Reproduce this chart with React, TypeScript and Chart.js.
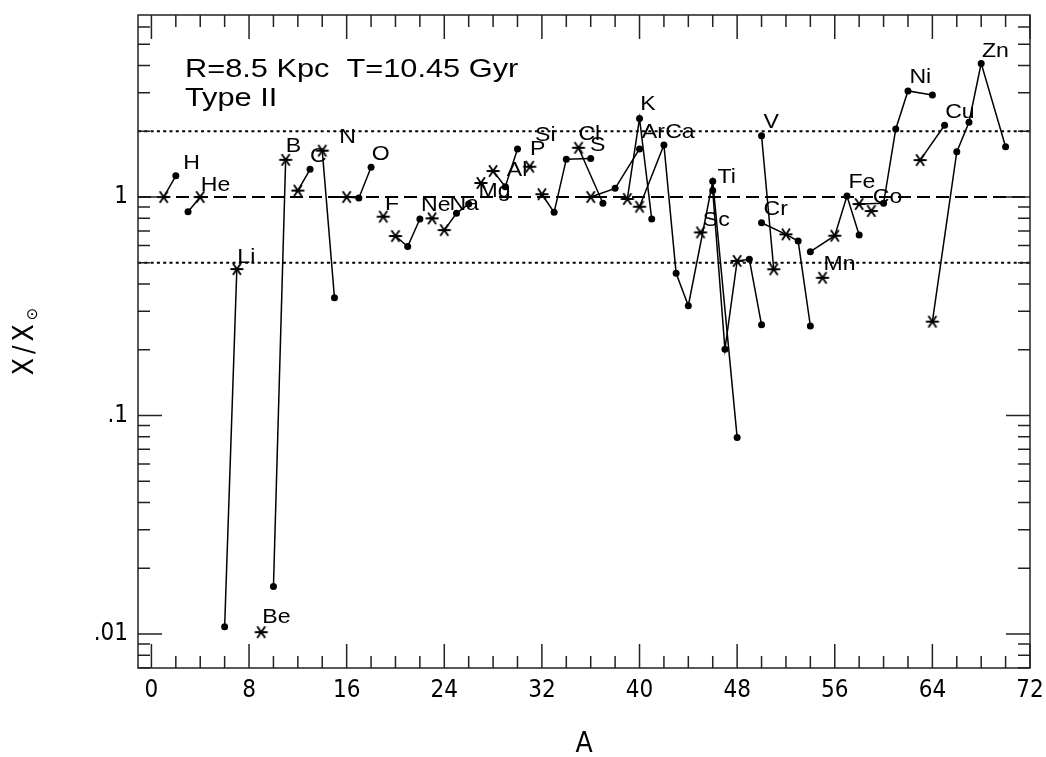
import React, { useEffect, useRef } from 'react';
import { Chart, registerables } from 'chart.js';
Chart.register(...registerables);

// ---- data ----
const elements = ['H','He','Li','Be','B','C','N','O','F','Ne','Na','Mg','Al','Si','P','S','Cl','Ar','K','Ca','Sc','Ti','V','Cr','Mn','Fe','Co','Ni','Cu','Zn'];
const massNumbers = [[1,2],[3,4],[6,7],[9],[10,11],[12,13],[14,15],[16,17,18],[19],[20,21,22],[23],[24,25,26],[27],[28,29,30],[31],[32,33,34,36],[35,37],[36,38,40],[39,40,41],[40,42,43,44,46,48],[45],[46,47,48,49,50],[50,51],[50,52,53,54],[55],[54,56,57,58],[59],[58,60,61,62,64],[63,65],[64,66,67,68,70]];
const ratios = [[1.0,1.25],[0.857,1.0],[0.0108,0.468],[0.0102],[0.0165,1.48],[1.07,1.34],[1.63,0.346],[1.0,0.99,1.37],[0.813],[0.663,0.593,0.793],[0.799],[0.706,0.842,0.929],[1.16],[1.315,1.115,1.66],[1.376],[1.03,0.851,1.49,1.50],[1.68,0.936],[1.0,1.096,1.66],[0.98,2.29,0.793],[0.903,1.73,0.448,0.318,1.18,0.0794],[0.689],[1.07,0.201,0.51,0.519,0.26],[1.91,0.467],[0.763,0.675,0.629,0.257],[0.427],[0.562,0.665,1.01,0.67],[0.863],[0.929,0.936,2.05,3.06,2.93],[1.476,2.13],[0.269,1.61,2.20,4.09,1.70]];
const starIsotope = [1,4,7,9,11,12,14,16,19,20,23,24,27,28,31,32,35,36,39,40,45,48,51,52,55,56,59,58,63,64];
// label anchors (data units: mass number, ratio)
const labelMass = [2.61,4.04,7.04,9.09,11.01,13.0,15.4,18.06,19.15,22.1,24.42,26.8,29.12,31.44,31.03,35.95,34.99,40.19,40.05,42.1,45.19,46.39,50.16,50.16,55.07,57.12,59.12,62.12,65.05,68.06];
const labelRatio = [1.35,1.07,0.497,0.0112,1.61,1.45,1.76,1.48,0.872,0.863,0.872,1.0,1.248,1.81,1.557,1.63,1.82,1.857,2.50,1.857,0.737,1.163,2.063,0.827,0.463,1.096,0.942,3.31,2.29,4.39];

const xTicks = [0,8,16,24,32,40,48,56,64,72];
const xMinorStep = 2;
const yTicks = [0.01,0.1,1];
const yTickLabels = ['.01','.1','1'];
const dottedLevels = [2,0.5];
const dashedLevels = [1];
const annotationLines = ['R=8.5 Kpc  T=10.45 Gyr','Type II'];
const xTitle = 'A';

const X_MIN = -1.1, X_MAX = 72, Y_MIN = 0.00699, Y_MAX = 6.81;
const NARROW = "'Liberation Sans Narrow', 'DejaVu Sans Condensed', sans-serif";
const SANS = "'Liberation Sans', Arial, sans-serif";

function makeStar(): HTMLCanvasElement {
  const c = document.createElement('canvas');
  c.width = 16; c.height = 16;
  const g = c.getContext('2d')!;
  g.strokeStyle = '#000';
  g.lineWidth = 1.9;
  g.beginPath();
  g.moveTo(1.5, 8); g.lineTo(14.5, 8);
  g.moveTo(4, 2.3); g.lineTo(12, 13.7);
  g.moveTo(4, 13.7); g.lineTo(12, 2.3);
  g.stroke();
  return c;
}

function wideText(ctx: CanvasRenderingContext2D, text: string, x: number, y: number, sx: number) {
  ctx.save();
  ctx.translate(x, y);
  ctx.scale(sx, 1);
  ctx.fillText(text, 0, 0);
  ctx.restore();
}

const decorPlugin = {
  id: 'decor',
  beforeDatasetsDraw(chart: any) {
    const { ctx, chartArea: a, scales } = chart;
    const y = scales.y;
    ctx.save();
    ctx.strokeStyle = '#000';
    ctx.lineWidth = 2;
    dottedLevels.forEach((v) => {
      const py = y.getPixelForValue(v);
      ctx.setLineDash([3, 3.3]);
      ctx.beginPath(); ctx.moveTo(a.left, py); ctx.lineTo(a.right, py); ctx.stroke();
    });
    dashedLevels.forEach((v) => {
      const py = y.getPixelForValue(v);
      ctx.setLineDash([13, 6]);
      ctx.beginPath(); ctx.moveTo(a.left, py); ctx.lineTo(a.right, py); ctx.stroke();
    });
    ctx.restore();
  },
  afterDraw(chart: any) {
    const { ctx, chartArea: a, scales } = chart;
    const xs = scales.x, ys = scales.y;
    ctx.save();
    // frame
    ctx.strokeStyle = '#222';
    ctx.lineWidth = 1.5;
    ctx.setLineDash([]);
    ctx.strokeRect(a.left, a.top, a.right - a.left, a.bottom - a.top);
    // x ticks (bottom & top, inward)
    ctx.beginPath();
    for (let v = xTicks[0]; v <= xTicks[xTicks.length - 1]; v += xMinorStep) {
      const px = xs.getPixelForValue(v);
      const len = xTicks.includes(v) ? 24 : 12;
      ctx.moveTo(px, a.bottom); ctx.lineTo(px, a.bottom - len);
      ctx.moveTo(px, a.top); ctx.lineTo(px, a.top + len);
    }
    // y ticks (left & right, inward)
    for (let d = 0.001; d < 10; d *= 10) {
      for (let m = 1; m <= 9; m++) {
        const v = m * d;
        if (v < Y_MIN || v > Y_MAX) continue;
        const py = ys.getPixelForValue(v);
        const len = m === 1 ? 24 : 12;
        ctx.moveTo(a.left, py); ctx.lineTo(a.left + len, py);
        ctx.moveTo(a.right, py); ctx.lineTo(a.right - len, py);
      }
    }
    ctx.stroke();

    // element labels
    ctx.fillStyle = '#000';
    ctx.font = `21px ${SANS}`;
    ctx.textAlign = 'left';
    ctx.textBaseline = 'alphabetic';
    elements.forEach((el, i) => {
      wideText(ctx, el, xs.getPixelForValue(labelMass[i]), ys.getPixelForValue(labelRatio[i]), 1.1);
    });

    // annotation text
    ctx.font = `25px ${SANS}`;
    wideText(ctx, annotationLines[0], a.left + 47, a.top + 62, 1.23);
    wideText(ctx, annotationLines[1], a.left + 47, a.top + 91, 1.23);

    // x title
    ctx.font = `28px ${NARROW}`;
    ctx.textAlign = 'center';
    ctx.textBaseline = 'middle';
    ctx.fillText(xTitle, (a.left + a.right) / 2, 745);

    // y title rotated: X/X⊙
    ctx.translate(26, (a.top + a.bottom) / 2);
    ctx.rotate(-Math.PI / 2);
    ctx.textAlign = 'left';
    ctx.textBaseline = 'middle';
    const parts = ['X', '/', 'X'];
    ctx.font = `28px ${NARROW}`;
    const gap = 4;
    const widths = parts.map((p) => ctx.measureText(p).width);
    ctx.font = `15px 'DejaVu Sans', sans-serif`;
    const sunW = ctx.measureText('\u2299').width;
    const total = widths.reduce((s, w) => s + w, 0) + gap * parts.length + sunW;
    let cx = -total / 2;
    ctx.font = `28px ${NARROW}`;
    parts.forEach((p, i) => { ctx.fillText(p, cx, 0); cx += widths[i] + gap; });
    ctx.font = `15px 'DejaVu Sans', sans-serif`;
    ctx.fillText('\u2299', cx, 7);
    ctx.restore();
  },
};

export default function App() {
  const ref = useRef<HTMLCanvasElement | null>(null);
  useEffect(() => {
    const star = makeStar();
    const datasets = elements.map((el, i) => ({
      label: el,
      data: massNumbers[i].map((m, j) => ({ x: m, y: ratios[i][j] })),
      showLine: true,
      borderColor: '#000',
      borderWidth: 1.5,
      backgroundColor: '#000',
      pointBackgroundColor: '#000',
      pointBorderColor: '#000',
      pointBorderWidth: 0,
      pointRadius: 3.5,
      pointStyle: massNumbers[i].map((m) => (m === starIsotope[i] ? star : 'circle')),
    }));
    const chart = new Chart(ref.current!, {
      type: 'scatter',
      data: { datasets } as any,
      options: {
        animation: false,
        responsive: false,
        devicePixelRatio: 1,
        layout: { padding: { left: 0, right: 16, top: 15, bottom: 0 } },
        plugins: { legend: { display: false }, tooltip: { enabled: false } },
        scales: {
          x: {
            type: 'linear',
            min: X_MIN,
            max: X_MAX,
            grid: { display: false, drawTicks: false },
            border: { display: false },
            afterBuildTicks: (s: any) => { s.ticks = xTicks.map((v) => ({ value: v })); },
            afterFit: (s: any) => { s.height = 89; s.paddingLeft = 0; s.paddingRight = 0; },
            ticks: { color: '#000', padding: 8, maxRotation: 0, autoSkip: false, font: { family: NARROW, size: 24 } },
          },
          y: {
            type: 'logarithmic',
            min: Y_MIN,
            max: Y_MAX,
            grid: { display: false, drawTicks: false },
            border: { display: false },
            afterBuildTicks: (s: any) => { s.ticks = yTicks.map((v) => ({ value: v })); },
            afterFit: (s: any) => { s.width = 138; s.paddingTop = 0; s.paddingBottom = 0; },
            ticks: {
              color: '#000', padding: 10, autoSkip: false,
              font: { family: NARROW, size: 24 },
              callback: (v: any) => { const k = yTicks.indexOf(Number(v)); return k >= 0 ? yTickLabels[k] : ''; },
            },
          },
        },
      } as any,
      plugins: [decorPlugin],
    });
    return () => chart.destroy();
  }, []);
  return (
    <div style={{ position: 'absolute', left: 0, top: 0, width: 1046, height: 757, background: '#fff' }}>
      <canvas ref={ref} width={1046} height={757} style={{ width: 1046, height: 757 }} />
    </div>
  );
}
